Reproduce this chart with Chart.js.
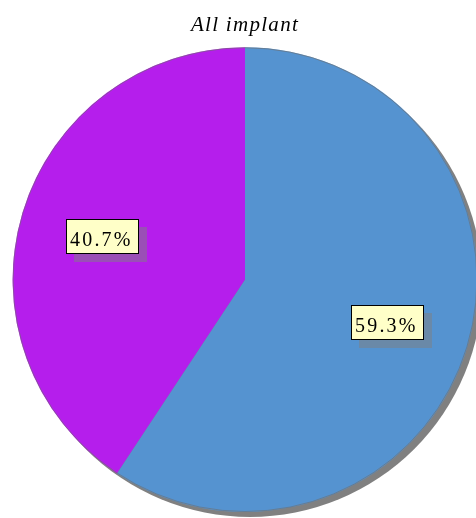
<!DOCTYPE html>
<html>
<head>
<meta charset="utf-8">
<script src="https://cdn.jsdelivr.net/npm/chart.js@4"></script>
<style>
  html, body { margin: 0; padding: 0; background: #fff; overflow: hidden; }
  #wrap { width: 490px; height: 518px; }
</style>
</head>
<body>
<div id="wrap"><canvas id="pie"></canvas></div>
<script>
const categories = ['Category 1', 'Category 2'];
const percents = [59.3, 40.7];
const sliceColors = ['#5593d0', '#b51eec'];
const chartTitle = 'All implant';

// slightly loose tracking for the title text
const textSpacing = {
  id: 'textSpacing',
  beforeDraw(chart) {
    chart.ctx.letterSpacing = '1.3px';
  }
};

// gray disc offset behind the pie
const pieShadow = {
  id: 'pieShadow',
  beforeDatasetsDraw(chart) {
    const arc = chart.getDatasetMeta(0).data[0];
    if (!arc) return;
    const { x, y, outerRadius } = arc.getProps(['x', 'y', 'outerRadius'], true);
    const ctx = chart.ctx;
    ctx.save();
    ctx.fillStyle = '#808080';
    ctx.beginPath();
    ctx.arc(x + 5, y + 5, outerRadius, 0, Math.PI * 2);
    ctx.fill();
    ctx.restore();
  },
  afterDatasetsDraw(chart) {
    // thin soft rim round the pie
    const arc = chart.getDatasetMeta(0).data[0];
    if (!arc) return;
    const { x, y, outerRadius } = arc.getProps(['x', 'y', 'outerRadius'], true);
    const ctx = chart.ctx;
    ctx.save();
    ctx.strokeStyle = 'rgba(110,110,110,0.6)';
    ctx.lineWidth = 1;
    ctx.beginPath();
    ctx.arc(x, y, outerRadius - 0.5, 0, Math.PI * 2);
    ctx.stroke();
    ctx.restore();
  }
};

// percent labels in yellow boxes with a drop shadow
const boxLabels = {
  id: 'boxLabels',
  afterDatasetsDraw(chart) {
    const ctx = chart.ctx;
    const meta = chart.getDatasetMeta(0);
    ctx.save();
    ctx.font = '20px "Liberation Serif", "Times New Roman", serif';
    ctx.letterSpacing = '2.2px';
    meta.data.forEach((arc, i) => {
      const p = arc.getProps(['x', 'y', 'startAngle', 'endAngle', 'outerRadius'], true);
      const mid = (p.startAngle + p.endAngle) / 2;
      const cx = p.x + Math.cos(mid) * p.outerRadius * 0.64;
      const cy = p.y + Math.sin(mid) * p.outerRadius * 0.64;
      const text = percents[i].toFixed(1) + '%';
      const w = Math.round(ctx.measureText(text).width) + 10;
      const h = 35;
      const bx = Math.round(cx - w / 2);
      const by = Math.round(cy - h / 2);
      ctx.fillStyle = 'rgba(128,128,128,0.5)';
      ctx.fillRect(bx + 8, by + 8, w, h);
      ctx.fillStyle = '#ffffc8';
      ctx.fillRect(bx, by, w, h);
      ctx.strokeStyle = '#000';
      ctx.lineWidth = 1;
      ctx.strokeRect(bx + 0.5, by + 0.5, w - 1, h - 1);
      ctx.fillStyle = '#000';
      ctx.textBaseline = 'alphabetic';
      ctx.fillText(text, bx + 4, by + 27);
    });
    ctx.restore();
  }
};

new Chart(document.getElementById('pie'), {
  type: 'pie',
  data: {
    labels: categories,
    datasets: [{
      data: percents,
      backgroundColor: sliceColors,
      borderWidth: 0
    }]
  },
  options: {
    responsive: true,
    maintainAspectRatio: false,
    animation: false,
    layout: { padding: { left: 12, right: 12, top: 0, bottom: 6 } },
    plugins: {
      legend: { display: false },
      tooltip: { enabled: false },
      title: {
        display: true,
        text: chartTitle,
        color: '#000',
        font: { family: '"Liberation Serif", "Times New Roman", serif', size: 21, style: 'italic', weight: 'normal' },
        padding: { top: 13, bottom: 9 }
      }
    }
  },
  plugins: [textSpacing, pieShadow, boxLabels]
});
</script>
</body>
</html>
